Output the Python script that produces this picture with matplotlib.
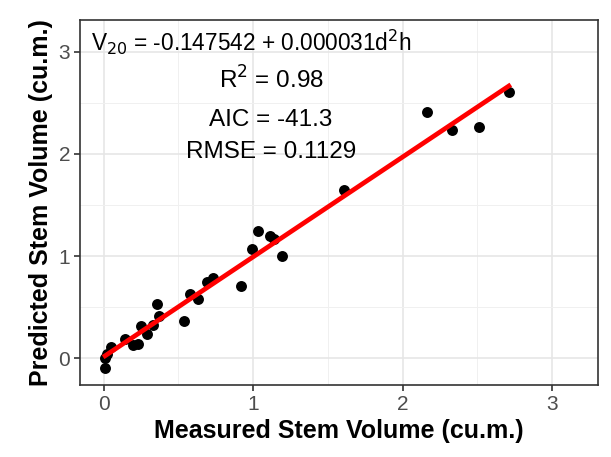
import numpy as np
import matplotlib.pyplot as plt

plt.rcParams['font.family'] = ['Liberation Sans', 'DejaVu Sans']

# measured vs predicted stem volume (cu.m.)
measured = [0.01, 0.01, 0.02, 0.05, 0.14, 0.20, 0.23, 0.25, 0.29, 0.33,
            0.36, 0.37, 0.54, 0.58, 0.63, 0.69, 0.73, 0.92, 0.99, 1.03,
            1.11, 1.14, 1.19, 1.61, 2.16, 2.33, 2.51, 2.71]
predicted = [-0.10, 0.00, 0.04, 0.11, 0.19, 0.13, 0.14, 0.31, 0.24, 0.32,
             0.53, 0.41, 0.36, 0.63, 0.58, 0.75, 0.78, 0.71, 1.07, 1.25,
             1.20, 1.17, 1.00, 1.65, 2.41, 2.24, 2.26, 2.61]

ticks = [0, 1, 2, 3]
minor = [0.5, 1.5, 2.5]

x = np.array(measured)
y = np.array(predicted)
slope, intercept = np.polyfit(x, y, 1)
xs = np.linspace(x.min(), x.max(), 50)

fig = plt.figure(figsize=(6.11, 4.57), dpi=100)
ax = fig.add_axes([0.131, 0.158, 0.848, 0.798])

ax.set_xlim(-0.1575, 3.3075)
ax.set_ylim(-0.2625, 3.3125)
ax.set_xticks(ticks)
ax.set_yticks(ticks)
ax.set_xticks(minor, minor=True)
ax.set_yticks(minor, minor=True)
ax.grid(True, which='major', color='#e6e6e6', lw=1.2, zorder=0)
ax.grid(True, which='minor', color='#f0f0f0', lw=0.7, zorder=0)
ax.tick_params(which='minor', length=0)
ax.tick_params(which='major', length=4, width=1.2, color='#333333',
               labelsize=15, labelcolor='#4d4d4d', pad=3)
for s in ax.spines.values():
    s.set_color('#333333')
    s.set_linewidth(1.2)
ax.set_axisbelow(True)

ax.scatter(x, y, s=62, color='black', zorder=3, linewidths=0)
ax.plot(xs, intercept + slope * xs, color='#ff0000', lw=3.4, zorder=4)

ax.text(0.99, 3.09, 'V$_{20}$ = -0.147542 + 0.000031d$^{2}$h',
        ha='center', va='center', fontsize=16.3)
ax.text(1.12, 2.73, 'R$^{2}$ = 0.98', ha='center', va='center', fontsize=17.5)
ax.text(1.12, 2.33, 'AIC = -41.3', ha='center', va='center', fontsize=17.5)
ax.text(1.12, 2.02, 'RMSE = 0.1129', ha='center', va='center', fontsize=17.5)

ax.set_xlabel('Measured Stem Volume (cu.m.)', fontsize=18, fontweight='bold')
ax.set_ylabel('Predicted Stem Volume (cu.m.)', fontsize=18, fontweight='bold')

fig.savefig('out.png', dpi=100)
